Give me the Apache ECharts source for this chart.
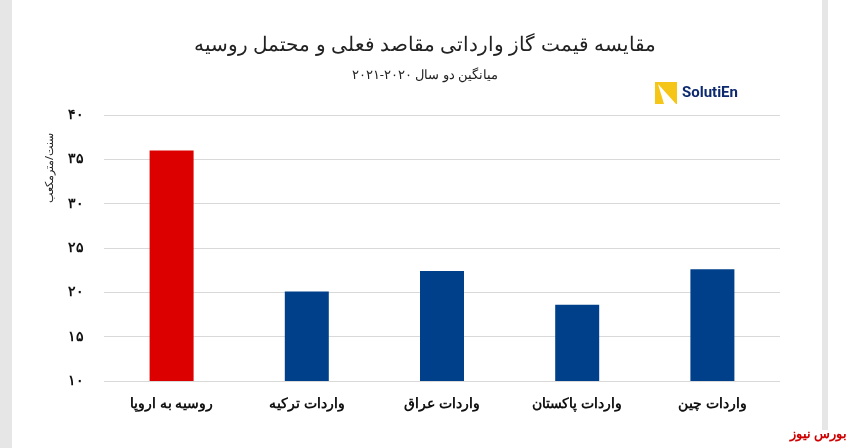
<!DOCTYPE html><html><head><meta charset="utf-8"><script src="https://cdn.jsdelivr.net/npm/echarts@6/dist/echarts.min.js"></script>
<style>body{margin:0}#c{width:853px;height:448px}</style></head><body><div id="c"></div><script>
const categories=['روسیه به اروپا','واردات ترکیه','واردات عراق','واردات پاکستان','واردات چین'];
const values=[36.0,20.1,22.4,18.6,22.6];
const colors=['#dd0000','#00408a','#00408a','#00408a','#00408a'];
const fa=n=>String(n).replace(/\d/g,d=>'۰۱۲۳۴۵۶۷۸۹'[d]);
const ch=echarts.init(document.getElementById('c'));
ch.setOption({
 animation:false,
 graphic:[
  {type:'rect',shape:{x:0,y:0,width:12,height:448},style:{fill:'#e6e6e6'}},
  {type:'rect',shape:{x:822,y:0,width:6,height:430},style:{fill:'#e6e6e6'}},
  {type:'rect',shape:{x:655,y:82,width:22,height:22},style:{fill:'#f5c518'}},
  {type:'polygon',shape:{points:[[658,84],[676,104],[664,104]]},style:{fill:'#fff'}},
  {type:'text',left:682,top:86,style:{text:'SolutiEn',font:'bold 15px Roboto, sans-serif',fill:'#0d2a6e'}},
  {type:'text',left:790,top:428,style:{text:'بورس نیوز',font:'bold 13px "Noto Sans", sans-serif',fill:'#d00000'}},
  {type:'text',x:50,y:168,rotation:Math.PI/2,style:{text:'سنت/مترمکعب',font:'11px "Noto Sans", sans-serif',fill:'#222',align:'center',verticalAlign:'middle'}}
 ],
 title:[{text:'مقایسه قیمت گاز وارداتی مقاصد فعلی و محتمل روسیه',left:420,textAlign:'center',top:30,textStyle:{fontSize:20,fontWeight:'normal',color:'#222',fontFamily:'"Noto Sans", sans-serif'}},
  {text:'میانگین دو سال ۲۰۲۰-۲۰۲۱',left:420,textAlign:'center',top:64,textStyle:{fontSize:13,fontWeight:'normal',color:'#222',fontFamily:'"Noto Sans", sans-serif'}}],
 grid:{left:104,right:73,top:115,bottom:67},
 xAxis:{type:'category',data:categories,axisLine:{show:false},axisTick:{show:false},axisLabel:{fontSize:14,fontWeight:'bold',color:'#111',margin:16,fontFamily:'"Noto Sans", sans-serif'}},
 yAxis:{type:'value',min:10,max:40,interval:5,
  axisLabel:{formatter:v=>fa(v),fontSize:14,fontWeight:'bold',color:'#111',margin:20},splitLine:{lineStyle:{color:'#d9d9d9'}}},
 series:[{type:'bar',barWidth:44,data:values.map((v,i)=>({value:v,itemStyle:{color:colors[i]}}))}]
});
</script></body></html>
